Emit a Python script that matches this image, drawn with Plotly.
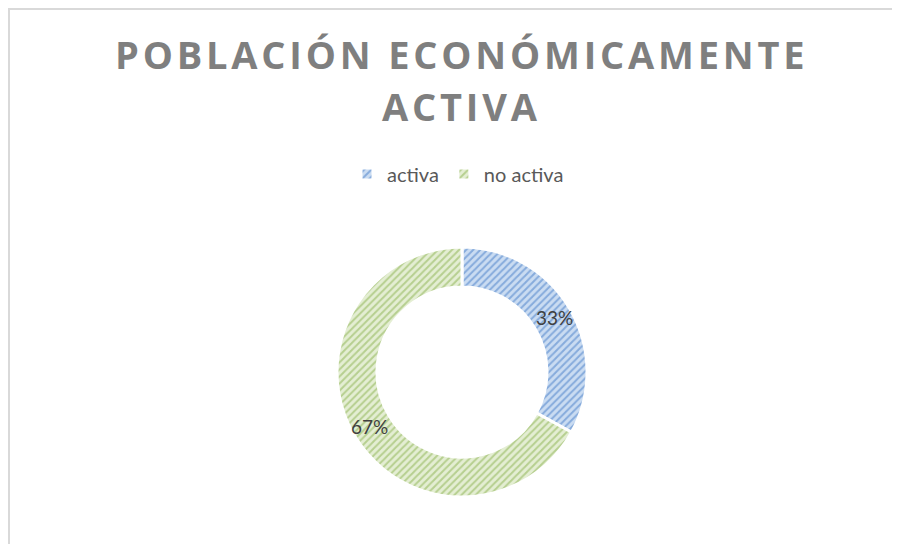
import math

import plotly.graph_objects as go

labels = ["activa", "no activa"]
values = [33, 67]

# the page body adds an 8px margin, so the figure is drawn 8px in from the window corner
OX, OY = 8, 8
W, H = 892, 536

# donut geometry in window pixels
CX, CY, R = 462, 372, 125
LABEL_R = 108


def px(x):
    return (x - OX) / W


def py(y):
    return 1 - (y - OY) / H


def spaced(s):
    return "\u200a".join(s)


title_lines = ["POBLACIÓN ECONÓMICAMENTE", "ACTIVA"]

fig = go.Figure(
    go.Pie(
        labels=labels,
        values=values,
        hole=0.68,
        sort=False,
        direction="clockwise",
        rotation=0,
        textinfo="none",
        marker={
            "colors": ["#a9c4ea", "#d3e3b8"],
            "line": {"color": "#ffffff", "width": 3},
            "pattern": {
                "shape": "/",
                "fgcolor": ["#86abdc", "#b6cf8f"],
                "bgcolor": ["#cadcf2", "#e4eed3"],
                "size": 5,
                "solidity": 0.4,
            },
        },
        domain={"x": [px(CX - R), px(CX + R)], "y": [py(CY + R), py(CY - R)]},
        hoverinfo="label+percent",
    )
)

# percentage labels at the middle of each ring segment (Excel style)
total = sum(values)
cum = 0
for v in values:
    mid = (cum + v / 2) / total * 2 * math.pi
    cum += v
    lx = CX + LABEL_R * math.sin(mid)
    ly = CY - LABEL_R * math.cos(mid)
    fig.add_annotation(
        x=px(lx), y=py(ly), xref="paper", yref="paper",
        xanchor="center", yanchor="middle",
        text=f"{round(v / total * 100)}%", showarrow=False,
        font={"size": 19, "color": "#404040", "family": "Lato, Open Sans, sans-serif"},
    )

title_y = [54, 106]
for line, ty in zip(title_lines, title_y):
    fig.add_annotation(
        x=px(460), y=py(ty), xref="paper", yref="paper",
        xanchor="center", yanchor="middle",
        text=spaced(line), showarrow=False,
        font={"size": 38, "color": "#7f7f7f", "family": "Open Sans, sans-serif", "weight": "bold"},
    )

fig.update_layout(
    width=W,
    height=H,
    margin={"l": 0, "r": 0, "t": 0, "b": 0},
    paper_bgcolor="#ffffff",
    plot_bgcolor="#ffffff",
    showlegend=True,
    legend={
        "orientation": "h",
        "x": px(458),
        "xanchor": "center",
        "y": py(174),
        "yanchor": "middle",
        "font": {"size": 20, "color": "#595959", "family": "Lato, Open Sans, sans-serif"},
    },
    shapes=[
        {
            "type": "rect",
            "xref": "paper",
            "yref": "paper",
            "x0": px(9),
            "x1": 1.05,
            "y0": -0.05,
            "y1": 1 - 1 / H,
            "line": {"color": "#d9d9d9", "width": 2},
        }
    ],
)

fig.write_html("out.html")
